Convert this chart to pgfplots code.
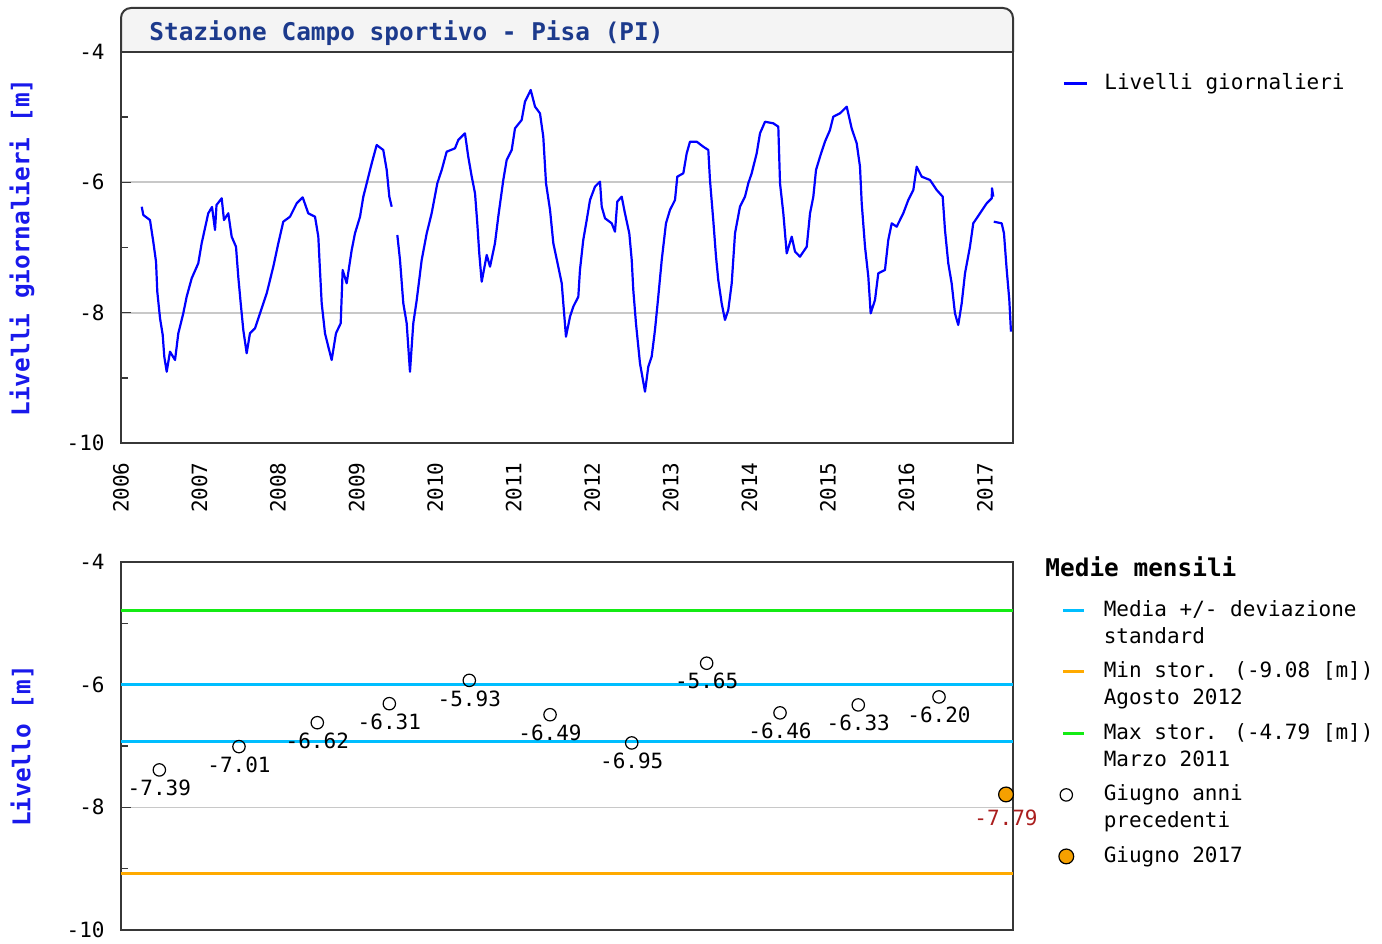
\documentclass[border=0pt]{standalone}
\usepackage{fontspec}
\setmainfont{DejaVu Sans Mono}
\usepackage{pgfplots}
\usepackage{pgfplotstable}
\pgfplotsset{compat=1.18}

\definecolor{seriesblue}{RGB}{0,0,255}
\definecolor{labelblue}{RGB}{25,25,235}
\definecolor{titleblue}{RGB}{28,58,140}
\definecolor{titlebg}{RGB}{244,244,244}
\definecolor{framegray}{RGB}{55,55,55}
\definecolor{gridgray}{RGB}{200,200,200}
\definecolor{mediacyan}{RGB}{0,190,255}
\definecolor{minorange}{RGB}{255,170,0}
\definecolor{maxgreen}{RGB}{20,235,20}
\definecolor{ptorange}{RGB}{245,160,0}
\definecolor{darkred}{RGB}{170,30,30}

\newcommand\tk{\fontsize{10.5}{12.6}\selectfont}
\newcommand\tb{\bfseries\fontsize{12.2}{14.6}\selectfont}

\pgfplotsset{
  lineleg/.style={legend image code/.code={\draw[##1] (0pt,0pt) -- (10.5pt,0pt);}},
  topleg/.style={legend image code/.code={\draw[##1, line width=1.5pt] (0pt,0pt) -- (11.5pt,0pt);}},
  markleg/.style={legend image code/.code={\draw[##1] plot coordinates {(1.5pt,0pt)};}},
}

\pgfplotstableread{
x y
2006.264 -6.374
2006.284 -6.501
2006.369 -6.578
2006.411 -6.911
2006.446 -7.218
2006.462 -7.678
2006.497 -8.086
2006.531 -8.342
2006.551 -8.675
2006.582 -8.906
2006.624 -8.599
2006.688 -8.726
2006.730 -8.316
2006.793 -8.010
2006.836 -7.755
2006.900 -7.473
2006.984 -7.242
2007.027 -6.935
2007.069 -6.705
2007.111 -6.475
2007.159 -6.378
2007.197 -6.731
2007.216 -6.348
2007.282 -6.245
2007.311 -6.578
2007.366 -6.475
2007.409 -6.834
2007.464 -6.988
2007.493 -7.448
2007.524 -7.856
2007.557 -8.266
2007.600 -8.623
2007.642 -8.316
2007.706 -8.240
2007.770 -8.010
2007.855 -7.703
2007.939 -7.294
2008.003 -6.935
2008.066 -6.604
2008.152 -6.527
2008.237 -6.322
2008.313 -6.230
2008.384 -6.475
2008.470 -6.527
2008.512 -6.834
2008.533 -7.345
2008.555 -7.856
2008.597 -8.316
2008.639 -8.522
2008.682 -8.726
2008.737 -8.316
2008.797 -8.163
2008.822 -7.345
2008.873 -7.549
2008.937 -7.038
2008.979 -6.782
2009.043 -6.527
2009.085 -6.220
2009.128 -6.015
2009.192 -5.708
2009.255 -5.427
2009.339 -5.504
2009.383 -5.811
2009.416 -6.220
2009.446 -6.374
2009.480 nan
2009.518 -6.808
2009.552 -7.192
2009.594 -7.856
2009.637 -8.163
2009.679 -8.906
2009.721 -8.163
2009.765 -7.805
2009.828 -7.192
2009.892 -6.782
2009.955 -6.475
2010.027 -6.015
2010.083 -5.811
2010.146 -5.530
2010.252 -5.478
2010.294 -5.350
2010.379 -5.248
2010.421 -5.607
2010.465 -5.913
2010.507 -6.168
2010.536 -6.629
2010.561 -7.089
2010.592 -7.525
2010.656 -7.115
2010.698 -7.294
2010.761 -6.935
2010.803 -6.527
2010.867 -5.964
2010.910 -5.657
2010.974 -5.504
2011.016 -5.171
2011.101 -5.043
2011.143 -4.763
2011.216 -4.583
2011.271 -4.839
2011.334 -4.941
2011.376 -5.300
2011.411 -6.015
2011.462 -6.424
2011.504 -6.935
2011.567 -7.294
2011.611 -7.549
2011.631 -7.856
2011.665 -8.369
2011.716 -8.062
2011.758 -7.908
2011.822 -7.755
2011.843 -7.345
2011.885 -6.885
2011.929 -6.578
2011.971 -6.271
2012.034 -6.067
2012.098 -5.990
2012.120 -6.374
2012.162 -6.552
2012.247 -6.629
2012.289 -6.757
2012.318 -6.297
2012.374 -6.220
2012.416 -6.475
2012.471 -6.782
2012.502 -7.192
2012.522 -7.652
2012.556 -8.163
2012.607 -8.777
2012.671 -9.212
2012.713 -8.829
2012.756 -8.675
2012.798 -8.266
2012.840 -7.755
2012.884 -7.192
2012.938 -6.629
2012.989 -6.424
2013.053 -6.271
2013.082 -5.913
2013.159 -5.861
2013.202 -5.554
2013.244 -5.376
2013.329 -5.376
2013.413 -5.453
2013.477 -5.504
2013.498 -5.964
2013.540 -6.578
2013.575 -7.141
2013.604 -7.499
2013.647 -7.856
2013.689 -8.112
2013.731 -7.959
2013.775 -7.549
2013.817 -6.782
2013.880 -6.374
2013.944 -6.220
2013.986 -6.015
2014.029 -5.861
2014.093 -5.554
2014.135 -5.248
2014.199 -5.070
2014.304 -5.094
2014.368 -5.146
2014.390 -6.015
2014.432 -6.475
2014.475 -7.089
2014.539 -6.834
2014.581 -7.064
2014.644 -7.141
2014.730 -6.988
2014.772 -6.475
2014.814 -6.220
2014.848 -5.811
2014.899 -5.607
2014.962 -5.376
2015.026 -5.197
2015.068 -4.993
2015.153 -4.941
2015.239 -4.839
2015.302 -5.171
2015.366 -5.401
2015.408 -5.760
2015.430 -6.322
2015.472 -6.988
2015.514 -7.448
2015.544 -8.010
2015.599 -7.805
2015.641 -7.396
2015.726 -7.345
2015.768 -6.885
2015.812 -6.629
2015.875 -6.681
2015.959 -6.475
2016.023 -6.271
2016.087 -6.118
2016.130 -5.760
2016.194 -5.913
2016.299 -5.964
2016.385 -6.118
2016.461 -6.220
2016.490 -6.731
2016.532 -7.242
2016.575 -7.549
2016.617 -8.010
2016.659 -8.189
2016.703 -7.856
2016.745 -7.396
2016.808 -6.988
2016.850 -6.629
2016.936 -6.475
2017.021 -6.322
2017.085 -6.245
2017.089 -6.091
2017.105 -6.220
2017.108 nan
2017.111 -6.604
2017.212 -6.629
2017.241 -6.782
2017.276 -7.345
2017.309 -7.805
2017.330 -8.292
}\levels

\begin{document}
\begin{tikzpicture}
\path[use as bounding box] (0,0) rectangle (691pt,471.5pt);
% title box
\draw[fill=titlebg, draw=framegray, line width=1pt, rounded corners=5pt]
  (60.5pt,445.5pt) -- (60.5pt,467.5pt) -- (506.5pt,467.5pt) -- (506.5pt,445.5pt);
\node[anchor=west, text=titleblue, font=\tb, inner sep=0pt] at (74.5pt,454.8pt)
  {Stazione Campo sportivo - Pisa (PI)};

\begin{axis}[
  name=top, at={(60.5pt,250pt)}, anchor=south west, scale only axis,
  width=446pt, height=195.5pt,
  xmin=2006, xmax=2017.356, ymin=-10, ymax=-4,
  axis line style={framegray, line width=1pt},
  tick style={framegray, line width=0.8pt},
  major tick length=5pt, minor tick length=3.5pt,
  tick align=inside, ytick pos=left,
  xtick={2006,2007,2008,2009,2010,2011,2012,2013,2014,2015,2016,2017},
  xticklabels={2006,2007,2008,2009,2010,2011,2012,2013,2014,2015,2016,2017},
  xtick style={draw=none},
  ytick={-10,-8,-6,-4}, yticklabels={-10,-8,-6,-4},
  minor ytick={-9,-7,-5},
  ymajorgrids, grid style={gridgray, line width=1pt},
  yticklabel style={font=\tk, anchor=east, inner sep=0pt, xshift=-8pt},
  xticklabel style={font=\tk, rotate=90, anchor=east, inner sep=0pt},
  xticklabel shift=9.5pt,
  ylabel={Livelli giornalieri [m]},
  every axis y label/.style={at={(axis description cs:-0.111,0.5)}, rotate=90, anchor=center, font=\tb, text=labelblue},
  unbounded coords=jump,
  legend style={at={(axis description cs:1.0549,0.9207)}, anchor=west, draw=none, fill=none,
    inner sep=0pt, column sep=8pt, nodes={inner sep=0pt, font=\tk}},
  legend cell align=left,
  topleg,
]
\addplot[seriesblue, line width=1.1pt, line join=round] table[x=x, y=y] {\levels};
\addlegendentry{Livelli giornalieri}
\end{axis}

\begin{axis}[
  name=bot, at={(60.5pt,6.5pt)}, anchor=south west, scale only axis,
  width=446pt, height=184pt,
  xmin=2006, xmax=2017.356, ymin=-10, ymax=-4,
  axis line style={framegray, line width=0.8pt},
  tick style={framegray, line width=0.8pt},
  major tick length=5pt, minor tick length=3.5pt,
  tick align=inside, ytick pos=left,
  xtick=\empty,
  ytick={-10,-8,-6,-4}, yticklabels={-10,-8,-6,-4},
  minor ytick={-9,-7,-5},
  ymajorgrids, grid style={gridgray, line width=0.7pt},
  yticklabel style={font=\tk, anchor=east, inner sep=0pt, xshift=-8pt},
  ylabel={Livello [m]},
  every axis y label/.style={at={(axis description cs:-0.111,0.5)}, rotate=90, anchor=center, font=\tb, text=labelblue},
  clip=false,
  legend style={at={(axis description cs:1.051,0.8967)}, anchor=north west, draw=none, fill=none,
    inner sep=0pt, column sep=9pt, row sep=20.75pt,
    nodes={inner sep=0pt, text height=8pt, text depth=2pt, font=\tk}},
  legend cell align=left,
  lineleg,
]
\addplot[mediacyan, line width=1.5pt] coordinates {(2006,-5.99) (2017.356,-5.99)};
\addlegendentry{\rlap{\raisebox{-13.5pt}[0pt][0pt]{standard}}Media +/- deviazione}
\addplot[mediacyan, line width=1.5pt, forget plot] coordinates {(2006,-6.93) (2017.356,-6.93)};
\addplot[minorange, line width=1.5pt] coordinates {(2006,-9.08) (2017.356,-9.08)};
\addlegendentry{\rlap{\raisebox{-13.5pt}[0pt][0pt]{Agosto 2012}}Min stor. (-9.08 [m])}
\addplot[maxgreen, line width=1.5pt] coordinates {(2006,-4.79) (2017.356,-4.79)};
\addlegendentry{\rlap{\raisebox{-13.5pt}[0pt][0pt]{Marzo 2011}}Max stor. (-4.79 [m])}
\addplot[only marks, mark=o, mark size=3.1pt, mark options={draw=black, fill=white, line width=0.6pt}, markleg]
  coordinates {(2006.488,-7.39) (2007.502,-7.01) (2008.499,-6.62) (2009.416,-6.31)
   (2010.434,-5.93) (2011.462,-6.49) (2012.502,-6.95) (2013.456,-5.65)
   (2014.390,-6.46) (2015.386,-6.33) (2016.414,-6.20)};
\addlegendentry{\rlap{\raisebox{-13.5pt}[0pt][0pt]{precedenti}}Giugno anni}
\addplot[only marks, mark=*, mark size=3.7pt, mark options={draw=black, fill=ptorange, line width=0.6pt}, markleg]
  coordinates {(2017.267,-7.79)};
\addlegendentry{Giugno 2017}
\addplot[forget plot, only marks, mark=none, nodes near coords, point meta=explicit symbolic,
  nodes near coords style={anchor=center, yshift=-9pt, font=\tk, text=black, inner sep=0pt}]
  coordinates {(2006.488,-7.39) [-7.39] (2007.502,-7.01) [-7.01] (2008.499,-6.62) [-6.62]
   (2009.416,-6.31) [-6.31] (2010.434,-5.93) [-5.93] (2011.462,-6.49) [-6.49]
   (2012.502,-6.95) [-6.95] (2013.456,-5.65) [-5.65] (2014.390,-6.46) [-6.46]
   (2015.386,-6.33) [-6.33] (2016.414,-6.20) [-6.20]};
\addplot[forget plot, only marks, mark=none, nodes near coords, point meta=explicit symbolic,
  nodes near coords style={anchor=center, yshift=-11.5pt, font=\tk, text=darkred, inner sep=0pt}]
  coordinates {(2017.267,-7.79) [-7.79]};
\node[anchor=west, font=\tb, inner sep=0pt] at (axis description cs:1.0359,0.9864) {Medie mensili};
\end{axis}
\end{tikzpicture}
\end{document}
